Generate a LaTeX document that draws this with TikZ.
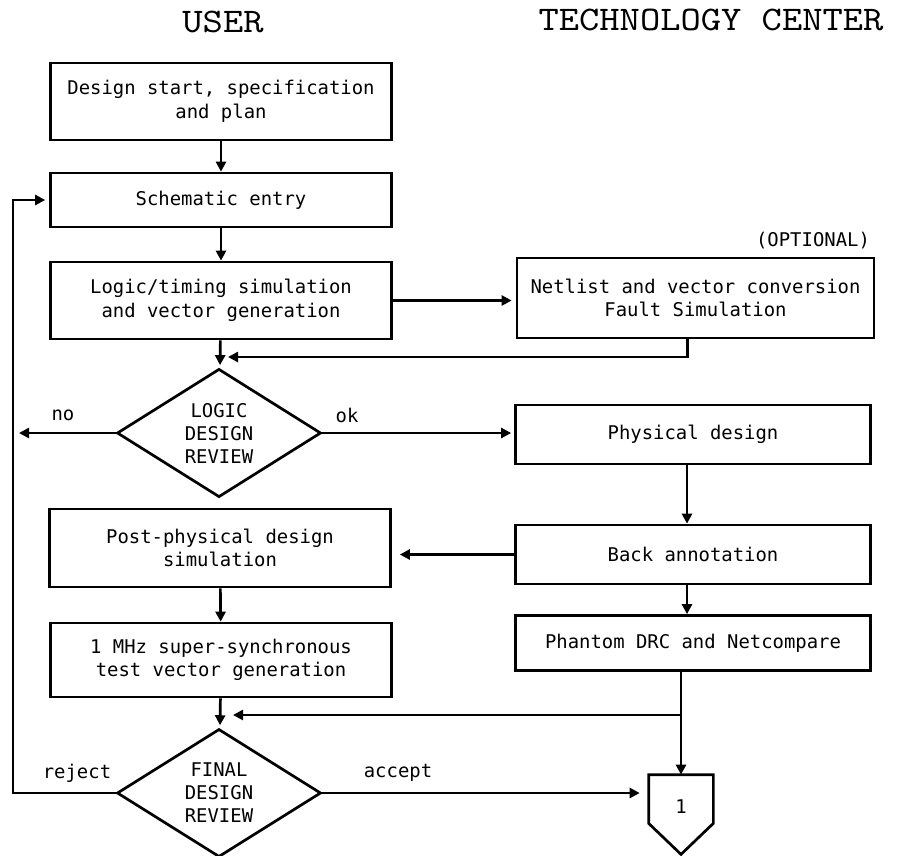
\documentclass[tikz,border=0pt]{standalone}
\usepackage{fontspec}
\setmainfont{DejaVu Sans Mono}
\newfontfamily\hdrfont[FakeStretch=1.12]{lmmono10-regular.otf}
\usetikzlibrary{arrows.meta,shapes.geometric}
\begin{document}
\begin{tikzpicture}[x=1pt,y=-1pt,
  line width=2.7pt,
  >={Triangle[length=10pt,width=10pt]},
  box/.style={draw, rectangle, align=center, inner sep=0pt, font=\fontsize{18.9}{23.5}\selectfont},
  dia/.style={draw, diamond, align=center, inner sep=0pt, minimum width=204pt, minimum height=122pt, font=\fontsize{18.9}{23}\selectfont},
  txt/.style={font=\fontsize{18.9}{23}\selectfont, inner sep=0pt},
  hdr/.style={font=\hdrfont\fontsize{34.5}{40}\selectfont, inner sep=0pt},
  ]
\useasboundingbox (0,0) rectangle (900,855);
\fill[white] (0,0) rectangle (900,855);

\node[hdr] (huser) at (223,22) {USER};
\node[hdr] (htc) at (711,20) {TECHNOLOGY CENTER};

\node[box, minimum width=341pt, minimum height=77pt] (b1) at (221,101.5) {Design start, specification\\and plan};
\node[box, minimum width=341pt, minimum height=54pt] (b2) at (221,200) {Schematic entry};
\node[box, minimum width=341pt, minimum height=77pt] (b3) at (221,300.5) {Logic/timing simulation\\and vector generation};
\node[box, minimum width=357pt, minimum height=80pt] (nl) at (695.5,298) {Netlist and vector conversion\\Fault Simulation};
\node[txt] (opt) at (813,241) {(OPTIONAL)};
\node[dia] (d1) at (219,433) {LOGIC\\DESIGN\\REVIEW};
\node[box, minimum width=355pt, minimum height=59pt] (pd) at (693,434.5) {Physical design};
\node[box, minimum width=355pt, minimum height=59pt] (ba) at (693,554.5) {Back annotation};
\node[box, minimum width=355pt, minimum height=55pt] (pdrc) at (693,643) {Phantom DRC and Netcompare};
\node[box, minimum width=341pt, minimum height=78pt] (pp) at (220,548) {Post-physical design\\simulation};
\node[box, minimum width=341pt, minimum height=74pt] (mhz) at (221,660) {1 MHz super-synchronous\\test vector generation};
\node[dia, minimum height=120pt] (d2) at (219,793) {FINAL\\DESIGN\\REVIEW};

\node[minimum width=62pt, minimum height=46pt, inner sep=0pt] (conn) at (681,799) {};
\draw (conn.north west) -- (conn.north east) -- (conn.south east) -- ([yshift=-31pt]conn.south) -- (conn.south west) -- cycle;
\node[txt] (one) at ([yshift=-8pt]conn.center) {1};

\node[txt] (lno) at (63,415) {no};
\node[txt] (lok) at (347,415) {ok};
\node[txt] (lrej) at (77,773) {reject};
\node[txt] (lacc) at (398,773) {accept};

\coordinate (j1) at (228,357);
\coordinate (noend) at (19,433);
\coordinate (j2) at (681,715);
\coordinate (j3) at (233,715);
\coordinate (fb) at (13,0);

\draw[->] (b1) -- (b2);
\draw[->] (b2) -- (b3);
\draw[->, shorten >=4pt] (b3.east) -- (b3.east -| nl.west);
\draw[->, shorten >=3pt] (b3) -- (d1);
\draw[->] ([xshift=-8pt]nl.south) |- (j1);
\draw[->] (d1.west) -- (noend);
\draw[->, shorten >=3pt] (d1.east) -- (d1.east -| pd.west);
\draw[->] ([xshift=-6pt]pd.south) -- ([xshift=-6pt]ba.north);
\draw[->, shorten >=8pt] (ba.west) -- (ba.west -| pp.east);
\draw[->] ([xshift=-6pt]ba.south) -- ([xshift=-6pt]pdrc.north);
\draw[->] (pp) -- (mhz);
\draw[->, shorten >=3pt] (mhz) -- (d2);
\draw[->] (pdrc.south -| conn.north) -- (conn.north);
\draw[->] (j2) -- (j3);
\draw[->, shorten >=9pt] (d2.east) -- (d2.east -| conn.west);
\draw[->, shorten >=4pt] (d2.west) -- (d2.west -| fb) |- (b2.west);
\end{tikzpicture}
\end{document}
